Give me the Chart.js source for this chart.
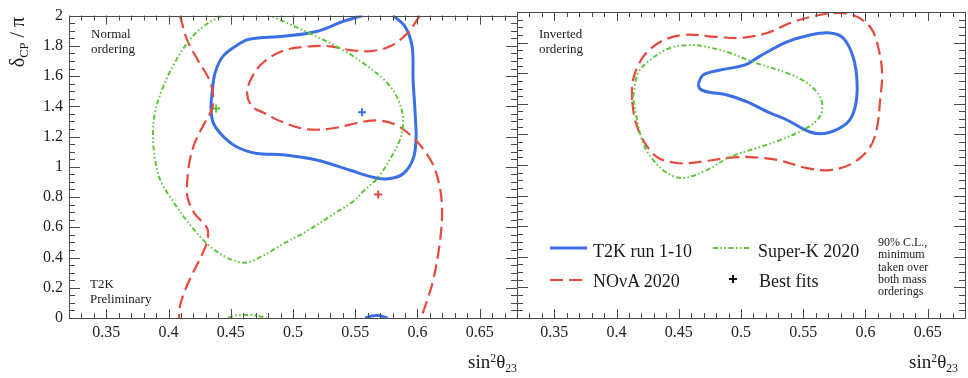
<!DOCTYPE html>
<html>
<head>
<meta charset="utf-8">
<script src="https://cdn.jsdelivr.net/npm/chart.js@4"></script>
<style>
  body { margin: 0; background: #fff; }
  #wrap { position: relative; width: 968px; height: 378px; overflow: hidden; font-family: "Liberation Serif", serif; color: #1a1a1a; }
  canvas { position: absolute; top: 0; }
  .txt { position: absolute; white-space: nowrap; line-height: 1; }
  .sm { font-size: 13px; line-height: 15px; }
  .leg { font-size: 18px; }
  .note { font-size: 12px; line-height: 12.3px; }
  .xt { font-size: 19px; }
  .yt { font-size: 20px; left: 17px; top: 42px; transform: translate(-50%, -50%) rotate(-90deg); }
  sup, sub { font-size: 0.62em; line-height: 0; position: relative; vertical-align: 0; }
  sup { top: -0.55em; }
  sub { top: 0.3em; }
</style>
</head>
<body>
<div id="wrap">
  <canvas id="left" width="530" height="378" style="left:0"></canvas>
  <canvas id="right" width="463" height="378" style="left:505px"></canvas>

  <div class="txt yt">δ<sub>CP</sub> / π</div>
  <div class="txt sm" style="left:91px; top:26px">Normal<br>ordering</div>
  <div class="txt sm" style="left:539px; top:26px">Inverted<br>ordering</div>
  <div class="txt sm" style="left:90px; top:276px">T2K<br>Preliminary</div>
  <div class="txt xt" style="right:451px; top:352px">sin<sup>2</sup>θ<sub>23</sub></div>
  <div class="txt xt" style="right:10px; top:352px">sin<sup>2</sup>θ<sub>23</sub></div>

  <div class="txt leg" style="left:593px; top:242px">T2K run 1-10</div>
  <div class="txt leg" style="left:758px; top:242px">Super-K 2020</div>
  <div class="txt leg" style="left:593px; top:272px">NOνA 2020</div>
  <div class="txt leg" style="left:759px; top:272px">Best fits</div>
  <div class="txt note" style="left:878px; top:236px">90% C.L.,<br>minimum<br>taken over<br>both mass<br>orderings</div>
</div>
<script>
// axis ticks
const xTickValues = [0.35, 0.4, 0.45, 0.5, 0.55, 0.6, 0.65];
const xTickLabels = ['0.35', '0.4', '0.45', '0.5', '0.55', '0.6', '0.65'];
const yTickValues = [0, 0.2, 0.4, 0.6, 0.8, 1, 1.2, 1.4, 1.6, 1.8, 2];
const yTickLabels = ['0', '0.2', '0.4', '0.6', '0.8', '1', '1.2', '1.4', '1.6', '1.8', '2'];

// normal ordering contours [sin2theta23, deltaCP/pi]
const t2kNO = [[0.556,2.0],[0.540,1.961],[0.519,1.895],[0.492,1.863],[0.4655,1.845],[0.4575,1.817],[0.4438,1.732],[0.4374,1.621],[0.435,1.49],[0.4341,1.392],[0.4358,1.294],[0.443,1.209],[0.455,1.131],[0.471,1.088],[0.492,1.08],[0.519,1.045],[0.546,0.977],[0.566,0.928],[0.578,0.922],[0.5885,0.954],[0.5965,1.052],[0.5989,1.183],[0.5981,1.359],[0.5965,1.575],[0.5957,1.797],[0.590,1.928],[0.5805,2.0]];
const t2kNOWrap = [[0.558,0],[0.562,0.012],[0.569,0.016],[0.576,0]];
const novaNOLeft = [[0.4092,2.0],[0.4149,1.84],[0.4235,1.706],[0.4328,1.575],[0.4358,1.475],[0.4352,1.39],[0.428,1.275],[0.4213,1.163],[0.4173,1.052],[0.4152,0.922],[0.4152,0.80],[0.421,0.69],[0.4307,0.60],[0.4317,0.54],[0.4293,0.464],[0.4197,0.30],[0.4132,0.183],[0.4092,0.08],[0.4084,0.0]];
const novaNORight = [[0.6021,2.0],[0.5917,1.882],[0.578,1.797],[0.562,1.765],[0.5459,1.772],[0.5298,1.797],[0.5137,1.797],[0.492,1.768],[0.476,1.69],[0.4675,1.6],[0.4631,1.49],[0.4671,1.399],[0.476,1.359],[0.492,1.294],[0.5113,1.248],[0.5322,1.255],[0.5539,1.294],[0.568,1.307],[0.582,1.28],[0.5941,1.212],[0.6046,1.118],[0.6126,1.013],[0.6182,0.856],[0.6198,0.686],[0.6174,0.464],[0.6126,0.248],[0.6078,0.118],[0.6029,0.0]];
const skNO = [[0.443,2.0],[0.4277,1.928],[0.4149,1.817],[0.4036,1.667],[0.3948,1.51],[0.3891,1.359],[0.3875,1.209],[0.3891,1.052],[0.3932,0.915],[0.4036,0.771],[0.4149,0.641],[0.431,0.49],[0.447,0.399],[0.4615,0.366],[0.476,0.412],[0.492,0.49],[0.5113,0.575],[0.5322,0.686],[0.5483,0.771],[0.5563,0.837],[0.5676,0.922],[0.578,1.052],[0.5861,1.183],[0.5885,1.314],[0.5845,1.444],[0.5756,1.556],[0.5596,1.667],[0.5403,1.771],[0.5137,1.882],[0.4816,2.0]];
const skNOWrap = [[0.4478,0],[0.453,0.015],[0.46,0.02],[0.47,0.017],[0.4792,0]];

// best fits (normal ordering)
const t2kBest = [0.5555, 1.36];
const novaBest = [0.5684, 0.817];
const skBest = [0.4382, 1.386];

// inverted ordering contours
const t2kIO = [[0.4655,1.529],[0.4695,1.588],[0.4832,1.621],[0.5033,1.654],[0.5153,1.712],[0.537,1.804],[0.5555,1.850],[0.5716,1.863],[0.5821,1.830],[0.5901,1.706],[0.5933,1.536],[0.5917,1.379],[0.5853,1.275],[0.5692,1.209],[0.5555,1.216],[0.537,1.294],[0.5234,1.340],[0.5049,1.412],[0.4888,1.458],[0.4735,1.477],[0.4671,1.497],[0.4655,1.529]];
const novaIO = [[0.4124,1.425],[0.4132,1.556],[0.4213,1.706],[0.435,1.804],[0.4534,1.850],[0.4808,1.837],[0.4993,1.830],[0.521,1.863],[0.5395,1.928],[0.5555,1.967],[0.574,1.993],[0.59,1.980],[0.6038,1.902],[0.6102,1.771],[0.6134,1.601],[0.6118,1.425],[0.6094,1.248],[0.6038,1.118],[0.59,1.013],[0.5716,0.967],[0.5531,0.980],[0.529,1.033],[0.5073,1.052],[0.4888,1.046],[0.4671,1.020],[0.4486,1.013],[0.4325,1.052],[0.4213,1.163],[0.4149,1.294],[0.4124,1.425]];
const skIO = [[0.4132,1.444],[0.4173,1.601],[0.4269,1.686],[0.443,1.765],[0.4591,1.784],[0.4727,1.771],[0.4912,1.732],[0.5097,1.673],[0.537,1.601],[0.5531,1.536],[0.5636,1.444],[0.5652,1.359],[0.5612,1.294],[0.5499,1.229],[0.5314,1.163],[0.5153,1.118],[0.4912,1.052],[0.4727,0.967],[0.4534,0.915],[0.4406,0.948],[0.4293,1.033],[0.4213,1.144],[0.4165,1.294],[0.4132,1.444]];

const BLUE = '#3a6fe6', RED = '#e8483c', GREEN = '#5cc63a';
const T2K_STYLE = { color: BLUE, width: 3, dash: [] };
const NOVA_STYLE = { color: RED, width: 2.2, dash: [13, 6] };
const SK_STYLE = { color: GREEN, width: 2, dash: [5, 2.5, 1.5, 2.5, 1.5, 2.5] };

const contour = (pts, st) => ({
  data: pts.map(([x, y]) => ({ x, y })),
  showLine: true, borderColor: st.color, borderWidth: st.width, borderDash: st.dash,
  pointRadius: 0, tension: 0.35, fill: false, clip: 0
});
const best = (pt, color) => ({
  data: [{ x: pt[0], y: pt[1] }], showLine: false,
  pointStyle: 'cross', pointRadius: 4, borderColor: color, borderWidth: 2, clip: 0
});

// frame with inward ROOT-like ticks on all four sides
const frameTicks = {
  id: 'frameTicks',
  afterDatasetsDraw(chart) {
    const { ctx, chartArea: a, scales: { x, y } } = chart;
    ctx.save();
    ctx.strokeStyle = '#4a4a4a';
    ctx.lineWidth = 1;
    ctx.strokeRect(Math.round(a.left) + 0.5, Math.round(a.top) + 0.5, Math.round(a.right - a.left), Math.round(a.bottom - a.top));
    ctx.beginPath();
    for (let i = 32; i <= 68; i++) {
      const px = Math.round(x.getPixelForValue(i / 100)) + 0.5;
      const len = i % 5 === 0 ? 9 : 5;
      ctx.moveTo(px, a.bottom); ctx.lineTo(px, a.bottom - len);
      ctx.moveTo(px, a.top); ctx.lineTo(px, a.top + len);
    }
    for (let i = 0; i <= 40; i++) {
      const py = Math.round(y.getPixelForValue(i * 0.05)) + 0.5;
      const len = i % 4 === 0 ? 11 : 6;
      ctx.moveTo(a.left, py); ctx.lineTo(a.left + len, py);
      ctx.moveTo(a.right, py); ctx.lineTo(a.right - len, py);
    }
    ctx.stroke();
    ctx.restore();
  }
};

// legend samples (text is in the page)
const legendSamples = {
  id: 'legendSamples',
  afterDraw(chart) {
    const ctx = chart.ctx;
    const sample = (x0, x1, yy, st) => {
      ctx.save();
      ctx.strokeStyle = st.color; ctx.lineWidth = st.width; ctx.setLineDash(st.dash);
      ctx.beginPath(); ctx.moveTo(x0, yy); ctx.lineTo(x1, yy); ctx.stroke();
      ctx.restore();
    };
    sample(45, 82, 248, T2K_STYLE);
    sample(208, 245, 248, SK_STYLE);
    sample(45, 82, 280, NOVA_STYLE);
    ctx.save();
    ctx.strokeStyle = '#111'; ctx.lineWidth = 2;
    ctx.beginPath();
    ctx.moveTo(224, 279); ctx.lineTo(232, 279);
    ctx.moveTo(228, 275); ctx.lineTo(228, 283);
    ctx.stroke();
    ctx.restore();
  }
};

const tickFont = { family: 'Liberation Serif', size: 16 };
const xScale = () => ({
  type: 'linear', min: 0.32, max: 0.68,
  grid: { display: false, drawTicks: false }, border: { display: false },
  afterBuildTicks: s => { s.ticks = xTickValues.map(value => ({ value })); },
  ticks: { font: tickFont, color: '#222', padding: 5, autoSkip: false, maxRotation: 0,
           callback: (v, i) => xTickLabels[i] },
  afterFit: s => { s.height = 60; }
});
const yScale = (show) => ({
  type: 'linear', min: 0, max: 2, display: show,
  grid: { display: false, drawTicks: false }, border: { display: false },
  afterBuildTicks: s => { s.ticks = yTickValues.map(value => ({ value })); },
  ticks: { font: tickFont, color: '#222', padding: 6, autoSkip: false,
           callback: (v, i) => yTickLabels[i] },
  afterFit: s => { s.width = show ? 69 : 0; }
});
const baseOptions = (padding, showY) => ({
  responsive: false, animation: false, devicePixelRatio: 1,
  layout: { padding },
  plugins: { legend: { display: false }, tooltip: { enabled: false } },
  scales: { x: xScale(), y: yScale(showY) }
});

new Chart(document.getElementById('left'), {
  type: 'scatter',
  data: { datasets: [
    contour(skNO, SK_STYLE), contour(skNOWrap, SK_STYLE),
    contour(novaNOLeft, NOVA_STYLE), contour(novaNORight, NOVA_STYLE),
    contour(t2kNO, T2K_STYLE), contour(t2kNOWrap, T2K_STYLE),
    best(t2kBest, BLUE), best(novaBest, RED), best(skBest, GREEN)
  ] },
  options: baseOptions({ top: 12, right: 13, left: 0, bottom: 0 }, true),
  plugins: [frameTicks]
});

new Chart(document.getElementById('right'), {
  type: 'scatter',
  data: { datasets: [
    contour(skIO, SK_STYLE), contour(novaIO, NOVA_STYLE), contour(t2kIO, T2K_STYLE)
  ] },
  options: baseOptions({ top: 12, right: 3, left: 12, bottom: 0 }, false),
  plugins: [frameTicks, legendSamples]
});
</script>
</body>
</html>
